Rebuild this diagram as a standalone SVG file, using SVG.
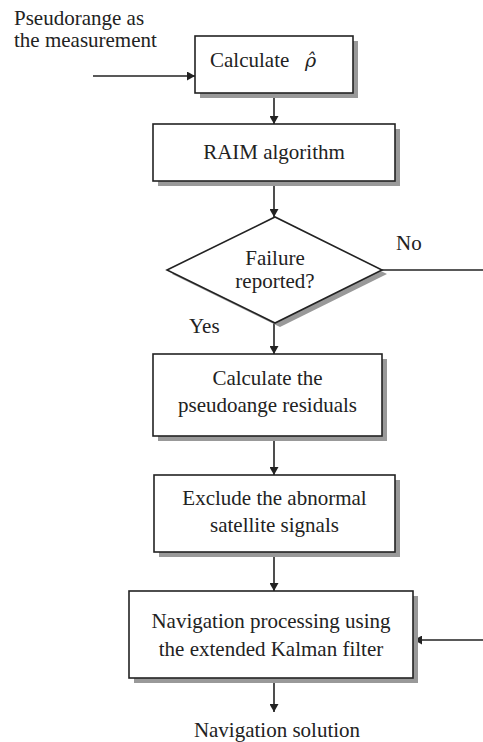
<svg xmlns="http://www.w3.org/2000/svg" width="483" height="742" viewBox="0 0 483 742">
<style>
text{font-family:"Liberation Serif","Times New Roman",serif;font-size:21px;fill:#222}
.c{text-anchor:middle}
.box{fill:#fff;stroke:#222;stroke-width:1.6}
.sh{fill:#999;stroke:none}
.ln{fill:none;stroke:#222;stroke-width:1.6}
</style>
<defs>
<marker id="ah" viewBox="0 0 10 10" refX="10" refY="5" markerWidth="8" markerHeight="9" markerUnits="userSpaceOnUse" orient="auto" preserveAspectRatio="none">
<path d="M0,0 L10,5 L0,10 z" fill="#222"/>
</marker>
</defs>
<rect width="483" height="742" fill="#fff"/>
<text x="14" y="25">Pseudorange as</text>
<text x="14" y="47">the measurement</text>
<g id="connectors">
<line class="ln" x1="93" y1="76" x2="195" y2="76" marker-end="url(#ah)"/>
<line class="ln" x1="274" y1="94" x2="274" y2="124" marker-end="url(#ah)"/>
<line class="ln" x1="274" y1="182" x2="274" y2="217" marker-end="url(#ah)"/>
<line class="ln" x1="274" y1="323" x2="274" y2="354" marker-end="url(#ah)"/>
<line class="ln" x1="274" y1="437" x2="274" y2="475" marker-end="url(#ah)"/>
<line class="ln" x1="274" y1="553" x2="274" y2="591" marker-end="url(#ah)"/>
<line class="ln" x1="274" y1="679" x2="274" y2="712" marker-end="url(#ah)"/>
<line class="ln" x1="382" y1="270" x2="483" y2="270"/>
<line class="ln" x1="483" y1="640" x2="414" y2="640" marker-end="url(#ah)"/>
<text x="396" y="250">No</text>
<text x="189" y="333">Yes</text>
</g>
<g id="calc">
<rect class="sh" x="200" y="41" width="158" height="57"/>
<rect class="box" x="195" y="36" width="158" height="57"/>
<text x="210" y="67">Calculate<tspan x="305" font-style="italic" font-family="'DejaVu Serif',serif" font-size="19">ρ̂</tspan></text>
</g>
<g id="raim">
<rect class="sh" x="158" y="129" width="242" height="57"/>
<rect class="box" x="153" y="124" width="242" height="57"/>
<text class="c" x="274" y="159">RAIM algorithm</text>
</g>
<g id="failure">
<polygon class="sh" points="172,274 280,221 387,274 280,327"/>
<polygon class="box" points="167,270 275,217 382,270 275,323"/>
<text class="c" x="275" y="265">Failure</text>
<text class="c" x="275" y="288">reported?</text>
</g>
<g id="residuals">
<rect class="sh" x="158" y="359" width="229" height="82"/>
<rect class="box" x="153" y="354" width="229" height="82"/>
<text class="c" x="267.5" y="385">Calculate the</text>
<text class="c" x="267.5" y="412">pseudoange residuals</text>
</g>
<g id="exclude">
<rect class="sh" x="159" y="480" width="241" height="77"/>
<rect class="box" x="154" y="475" width="241" height="77"/>
<text class="c" x="274.5" y="505">Exclude the abnormal</text>
<text class="c" x="274.5" y="532">satellite signals</text>
</g>
<g id="navproc">
<rect class="sh" x="134" y="596" width="284" height="87"/>
<rect class="box" x="129" y="591" width="284" height="87"/>
<text class="c" x="271" y="628">Navigation processing using</text>
<text class="c" x="271" y="656">the extended Kalman filter</text>
</g>
<g id="solution">
<text class="c" x="277" y="737">Navigation solution</text>
</g>
</svg>
